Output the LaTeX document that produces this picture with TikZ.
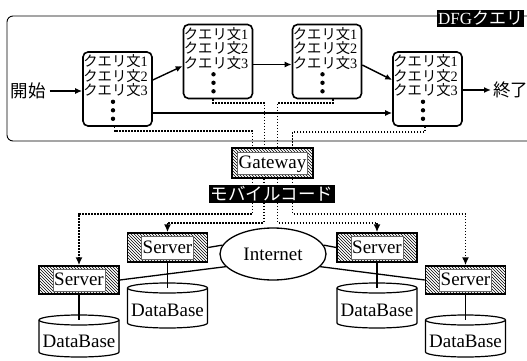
\documentclass[tikz,border=0pt]{standalone}
\usepackage{fontspec}
\setmainfont{Liberation Serif}
\newfontfamily\jp{Noto Sans CJK JP}
\usetikzlibrary{arrows.meta,calc,patterns,shapes.geometric}

% white framed label inside a hatched box
\newcommand\hatchlabel[1]{{\setlength\fboxsep{1pt}\setlength\fboxrule{0.5pt}%
  \fcolorbox{black!60}{white}{\rule[-4.5pt]{0pt}{20pt}#1}}}

% query statement lines and the vertical ellipsis inside a query box
\newcommand\qtexts[1]{%
  \foreach \k/\dy in {1/10,2/24.5,3/39}{%
    \node[qline] (#1l\k) at ($(#1.north west)+(1,\dy)$) {{\jp クエリ文}\k};}
  \foreach \dy in {25,16.5,8}{%
    \fill ($(#1.south)+(-4.5,-\dy)$) circle (2.2);}
}

% database cylinder: name, centre x, top rim y, bottom rim y
\newcommand\dbase[4]{%
  \draw[line width=1.2pt,fill=white] ({#2-40},#3) -- ({#2-40},#4)
    arc[start angle=180,end angle=0,x radius=40,y radius=5] -- ({#2+40},#3)
    arc[start angle=0,end angle=-180,x radius=40,y radius=5] -- cycle;
  \draw[line width=1.2pt] ({#2-40},#3) arc[start angle=180,end angle=0,x radius=40,y radius=5];
  \coordinate (#1top) at (#2,#3);
  \node[lat] (#1) at (#2,{(#3+#4)/2+5}) {DataBase};
}

\begin{document}
\begin{tikzpicture}[x=1pt,y=-1pt,
  qbox/.style={draw,line width=1.6pt,rounded corners=5pt,minimum width=69pt,minimum height=74pt,inner sep=0pt},
  qline/.style={inner sep=0pt,anchor=west,font=\fontsize{14.3}{14.3}\selectfont},
  flow/.style={line width=1.4pt,-{Latex[length=7pt,width=6pt]}},
  dotline/.style={line width=1.6pt,dash pattern=on 1.6pt off 1.4pt},
  dotarrow/.style={dotline,-{Latex[length=8pt,width=7pt]}},
  hatchbox/.style={draw,line width=1.5pt,pattern=north west lines,inner sep=0pt,
    minimum width=80pt,minimum height=28pt,font=\fontsize{19}{19}\selectfont},
  lat/.style={font=\fontsize{19}{19}\selectfont,inner sep=0pt},
  jlab/.style={font=\fontsize{17.5}{17.5}\selectfont\jp,inner sep=0pt},
  tag/.style={fill=black,text=white,inner sep=1.5pt},
  link/.style={line width=1.3pt},
]
\useasboundingbox (0,0) rectangle (527,361);

% DFG query frame
\draw[line width=0.9pt,rounded corners=6pt] (7,16) rectangle (545,141);
\node[font=\fontsize{17}{17}\selectfont,fill=black,text=white,inner sep=1pt,
  minimum height=17pt,anchor=west] (dfg) at (437,18.5) {DFG{\jp クエリ}};

% query boxes
\node[qbox] (q1) at (117.5,89) {};
\node[qbox] (q2) at (218,61.5) {};
\node[qbox] (q3) at (327,61.5) {};
\node[qbox] (q4) at (427.5,89) {};
\qtexts{q1}\qtexts{q2}\qtexts{q3}\qtexts{q4}

\node[jlab] (start) at (28,91) {開始};
\node[jlab,anchor=west] (fin) at (493,90) {終了};

% control flow
\draw[flow,shorten <=4pt] (start.east) -- (start.east -| q1.west);
\draw[flow] ($(q1.east)+(0,-9)$) -- ($(q2.west)+(0,4.5)$);
\draw[flow] ($(q2.east)+(0,3)$) -- ($(q3.west)+(0,3)$);
\draw[flow] ($(q3.east)+(0,3.5)$) -- ($(q4.west)+(0,-9)$);
\draw[flow] ($(q1.east)+(0,24)$) -- ($(q4.west)+(0,24)$);
\draw[flow,shorten >=2pt] (fin.west -| q4.east) -- (fin.west);

% gateway
\node[hatchbox,minimum width=81pt,minimum height=30pt] (gw) at (272.5,163) {\hatchlabel{Gateway}};

% query code sent to the gateway
\draw[dotline] ($(q1.south)+(-3,0)$) |- ($(gw.north)+(-20,-16)$) -- ($(gw.north)+(-20,0)$);
\draw[dotline] ($(q2.south)+(-5,0)$) |- ($(gw.north)+(-8,-44)$) -- ($(gw.north)+(-8,0)$);
\draw[dotline] ($(q3.south)+(6,0)$) |- ($(gw.north)+(5,-44)$) -- ($(gw.north)+(5,0)$);
\draw[dotline] ($(q4.south)+(-2.5,0)$) |- ($(gw.north)+(20,-15)$) -- ($(gw.north)+(20,0)$);

% servers
\node[hatchbox] (s1) at (79,280) {\hatchlabel{Server}};
\node[hatchbox,minimum height=29pt] (s2) at (167.5,247.5) {\hatchlabel{Server}};
\node[hatchbox,minimum height=29pt] (s3) at (377,247.5) {\hatchlabel{Server}};
\node[hatchbox] (s4) at (465.5,280) {\hatchlabel{Server}};

% mobile code distributed to the servers
\draw[dotarrow] ($(gw.south)+(-20,0)$) -- ++(0,35) -| (s1.north);
\draw[dotarrow] ($(gw.south)+(-8.5,0)$) -- ++(0,44) -| (s2.north);
\draw[dotarrow] ($(gw.south)+(5,0)$) -- ++(0,44) -| (s3.north);
\draw[dotarrow] ($(gw.south)+(20,0)$) -- ++(0,35) -| (s4.north);
\node[jlab,tag] (mc) at (272,194) {モバイルコード};

% network
\node[ellipse,draw,line width=1.3pt,fill=white,minimum width=106pt,minimum height=52pt,
  inner sep=0pt,lat] (inet) at (273,254) {Internet};
\draw[link] (s1.east) -- (inet.195);
\draw[link] (s2.east) -- (inet.170);
\draw[link] (s3.west) -- (inet.10);
\draw[link] (s4.west) -- (inet.-15);

% databases
\dbase{db1}{79}{320}{352}
\dbase{db2}{167.5}{288}{323}
\dbase{db3}{377}{288}{323}
\dbase{db4}{465.5}{320}{352}
\draw[link] (s1.south) -- (db1top);
\draw[link] (s2.south) -- (db2top);
\draw[link] (s3.south) -- (db3top);
\draw[link] (s4.south) -- (db4top);
\end{tikzpicture}
\end{document}
